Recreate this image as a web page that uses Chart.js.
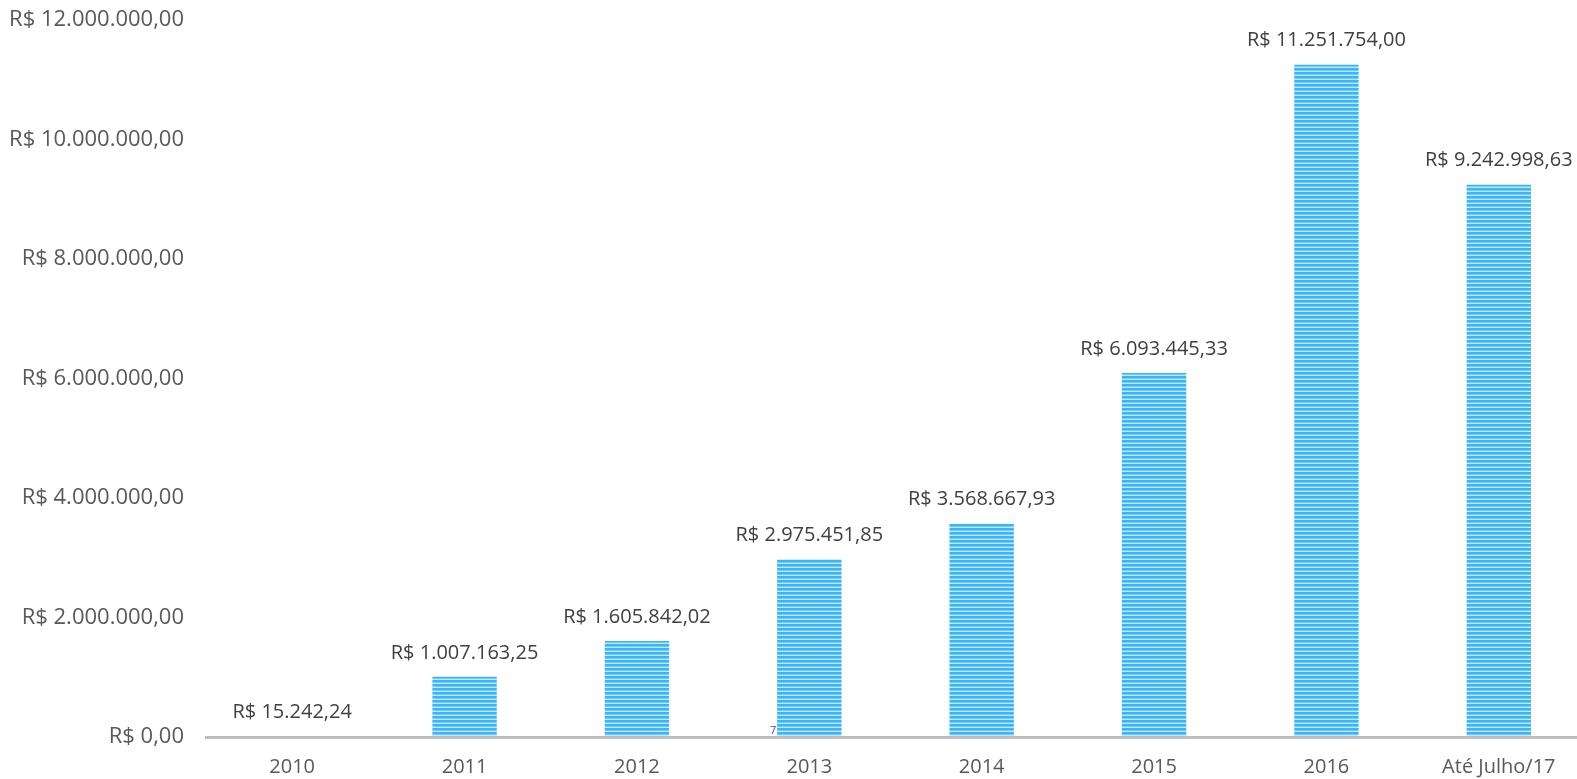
<!DOCTYPE html>
<html>
<head>
<meta charset="utf-8">
<script src="https://cdn.jsdelivr.net/npm/chart.js@4/dist/chart.umd.min.js"></script>
<style>
  html, body { margin: 0; padding: 0; background: #fff; overflow: hidden; }
  /* a área do gráfico passa um pouco da borda direita, como no original */
  #wrap { width: 1585px; height: 779px; position: relative; }
</style>
</head>
<body>
<div id="wrap"><canvas id="c"></canvas></div>
<script>
// categorias e valores arrecadados (R$)
const anos = ['2010', '2011', '2012', '2013', '2014', '2015', '2016', 'Até Julho/17'];
const valores = [15242.24, 1007163.25, 1605842.02, 2975451.85, 3568667.93, 6093445.33, 11251754.00, 9242998.63];
const yMax = 12000000;
const yStep = 2000000;

// formato brasileiro: R$ 1.234.567,89
function brl(v) {
  const [int, dec] = v.toFixed(2).split('.');
  return 'R$ ' + int.replace(/\B(?=(\d{3})+(?!\d))/g, '.') + ',' + dec;
}

// listras horizontais das barras
function stripes() {
  const p = document.createElement('canvas');
  p.width = 4; p.height = 4;
  const g = p.getContext('2d');
  g.fillStyle = '#c4e8ff';
  g.fillRect(0, 0, 4, 4);
  g.fillStyle = '#38b5fb';
  g.fillRect(0, 0, 4, 2.6);
  return g.createPattern(p, 'repeat');
}

// rótulos de valor acima das barras
const valueLabels = {
  id: 'valueLabels',
  afterDatasetsDraw(chart) {
    const ctx = chart.ctx;
    const meta = chart.getDatasetMeta(0);
    ctx.save();
    ctx.font = '20px "Open Sans", sans-serif';
    ctx.fillStyle = '#404040';
    ctx.textAlign = 'center';
    ctx.textBaseline = 'middle';
    meta.data.forEach((bar, i) => {
      ctx.fillText(brl(valores[i]), bar.x, bar.y - 24);
    });
    // pequeno "7" solto junto à barra de 2013
    const b = meta.data[3];
    ctx.font = '11px "Open Sans", sans-serif';
    ctx.fillStyle = '#44546a';
    ctx.fillText('7', b.x - b.width / 2 - 4, chart.scales.y.getPixelForValue(0) - 6);
    ctx.restore();
  }
};

new Chart(document.getElementById('c'), {
  type: 'bar',
  data: {
    labels: anos,
    datasets: [{
      data: valores,
      backgroundColor: stripes(),
      borderWidth: 0,
      barPercentage: 0.5,
      categoryPercentage: 0.747
    }]
  },
  options: {
    responsive: true, maintainAspectRatio: false, animation: false,
    layout: { padding: { top: 20, left: 0, right: 0, bottom: 0 } },
    plugins: { legend: { display: false }, tooltip: { enabled: false } },
    scales: {
      x: {
        grid: { display: false, drawTicks: false },
        // eixo desenhado por cima das barras (a de 2010 fica escondida)
        border: { display: true, color: '#bfbfbf', width: 3, z: 1 },
        ticks: { color: '#595959', font: { family: '"Open Sans", sans-serif', size: 20 }, padding: 18, maxRotation: 0 },
        afterFit: s => { s.height = 42; s.paddingLeft = 0; s.paddingRight = 0; }
      },
      y: {
        min: 0, max: yMax,
        grid: { display: false, drawTicks: false },
        border: { display: false },
        ticks: {
          stepSize: yStep,
          color: '#595959',
          font: { family: '"Open Sans", sans-serif', size: 22 },
          padding: 22,
          callback: v => brl(v)
        },
        afterFit: s => { s.width = 206; s.paddingTop = 0; s.paddingBottom = 0; }
      }
    }
  },
  plugins: [valueLabels]
});
</script>
</body>
</html>
